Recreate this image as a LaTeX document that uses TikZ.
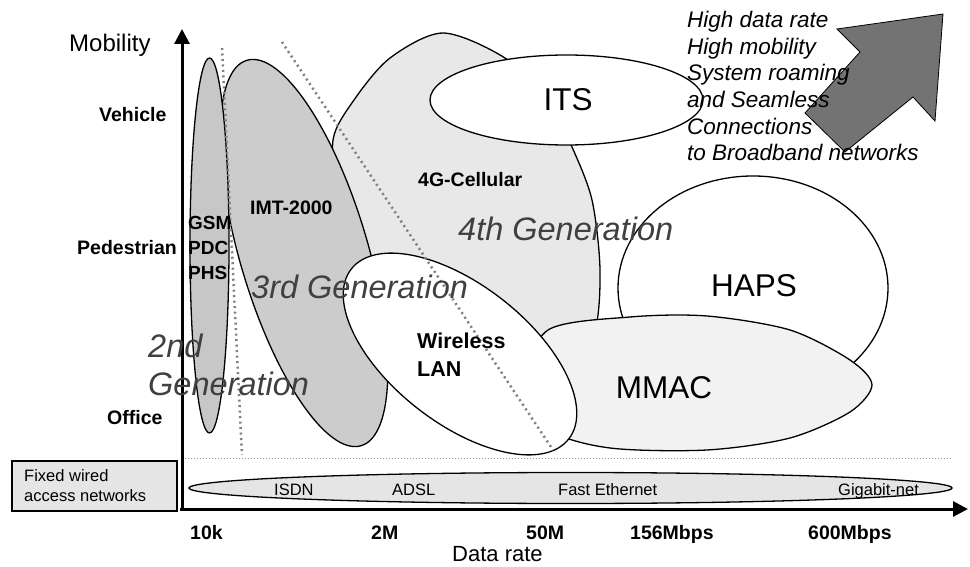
\documentclass[tikz,border=0pt]{standalone}
\usepackage{fontspec}
\setmainfont{Liberation Sans}
\usetikzlibrary{arrows.meta}
\begin{document}
\begin{tikzpicture}[x=1pt,y=1pt,
  outl/.style={draw=black,line width=1.3pt},
  axisline/.style={line width=3pt,-{Triangle[length=15pt,width=15pt]}},
  gendiv/.style={draw=black!50,line width=2.5pt,dash pattern=on 2pt off 3.5pt},
  blbl/.style={inner sep=0pt,anchor=base west,font=\fontsize{19.5}{22}\selectfont\bfseries},
  nlbl/.style={inner sep=0pt,anchor=base west,font=\fontsize{16.5}{19}\selectfont},
  biglbl/.style={inner sep=0pt,anchor=center,font=\fontsize{31.5}{34}\selectfont},
  genlbl/.style={inner sep=0pt,anchor=base west,text=black!75,font=\fontsize{32.5}{36}\selectfont\itshape},
  notelbl/.style={inner sep=0pt,anchor=base west,font=\fontsize{22.5}{26}\selectfont\itshape}]
\useasboundingbox (0,0) rectangle (970,566);

% fixed wired box and band
\draw[line width=1.5pt,fill=black!10] (12,55) rectangle (177,105);
\draw[black!40,line width=0.8pt,dash pattern=on 1pt off 2pt] (182,108) -- (952,108);
\draw[outl,fill=black!10] (570.5,78) ellipse [x radius=381.5,y radius=15.5];

% 4G cellular
\draw[outl,fill=black!9] plot[smooth cycle] coordinates {(333,426) (354,466) (390,508) (443,533) (505,508) (548,466) (572,419) (592,366) (600,296) (594,231) (560,166) (480,141) (410,186) (365,276) (340,366)};
% ITS
\draw[outl,fill=white] (566.5,466) ellipse [x radius=136.5,y radius=45];
% HAPS
\draw[outl,fill=white] (753,278) ellipse [x radius=135,y radius=112];
% MMAC
\draw[outl,fill=black!5] plot[smooth cycle] coordinates {(525,181) (548,236) (630,249) (707,250) (790,236) (850,206) (872,181) (850,154) (790,128) (707,116) (610,118) (550,136)};
% IMT-2000
\draw[outl,fill=black!20,rotate around={-73.5:(304,313)}] (304,313) ellipse [x radius=201,y radius=64];
% GSM
\draw[outl,fill=black!22] (209.5,320.5) ellipse [x radius=19.5,y radius=187.5];
% Wireless LAN
\draw[outl,fill=white,rotate around={-38:(460,212)}] (460,212) ellipse [x radius=138,y radius=69];

% generation dividers
\coordinate (d1a) at (222,518); \coordinate (d1b) at (242,111);
\coordinate (d2a) at (282,524); \coordinate (d2b) at (553,116);
\draw[gendiv] (d1a) -- (d1b);
\draw[gendiv] (d2a) -- (d2b);

% big arrow
\draw[line width=0.8pt,fill=black!55] (943,552) -- (837,537) -- (860,514) -- (805,453) -- (845,414) -- (913,469) -- (935,445) -- cycle;

% axes
\coordinate (O) at (182,57);
\coordinate (Ytip) at (182,537);
\coordinate (Xtip) at (968,57);
\draw[axisline] (O) -- (Ytip);
\draw[axisline] (180,57) -- (Xtip);

% texts
\node[inner sep=0pt,anchor=base west,font=\fontsize{24}{28}\selectfont] (mob) at (69,514) {Mobility};
\node[blbl] (veh) at (99,444) {Vehicle};
\node[blbl] (ped) at (77,311) {Pedestrian};
\node[blbl] (off) at (107,142) {Office};
\node[blbl,font=\fontsize{19}{22}\selectfont\bfseries] (gsm) at (188,336) {GSM};
\node[blbl,font=\fontsize{19}{22}\selectfont\bfseries] (pdc) at (188,311) {PDC};
\node[blbl,font=\fontsize{19}{22}\selectfont\bfseries] (phs) at (188,287) {PHS};
\node[blbl] (imt) at (250,351) {IMT-2000};
\node[blbl] (cell) at (418,379) {4G-Cellular};
\node[blbl,font=\fontsize{21.5}{24}\selectfont\bfseries] (wl) at (417,218) {Wireless};
\node[blbl,font=\fontsize{21.5}{24}\selectfont\bfseries] (lan) at (417,190) {LAN};
\node[biglbl] (its) at (568,466) {ITS};
\node[biglbl] (haps) at (754,280) {HAPS};
\node[biglbl] (mmac) at (664,178) {MMAC};

\node[genlbl] (g2a) at (148,209) {2nd};
\node[genlbl] (g2b) at (148,171) {Generation};
\node[genlbl] (g3) at (251,267) {3rd Generation};
\node[genlbl] (g4) at (458,325) {4th Generation};

\node[nlbl] (isdn) at (274,71) {ISDN};
\node[nlbl] (adsl) at (392,71) {ADSL};
\node[nlbl] (feth) at (558,71) {Fast Ethernet};
\node[nlbl] (gig) at (838,71) {Gigabit-net};
\node[nlbl] (fw1) at (24,85) {Fixed wired};
\node[nlbl] (fw2) at (24,65) {access networks};

\node[blbl] (x1) at (190,27) {10k};
\node[blbl] (x2) at (371,27) {2M};
\node[blbl] (x3) at (526,27) {50M};
\node[blbl] (x4) at (630,27) {156Mbps};
\node[blbl] (x5) at (808,27) {600Mbps};
\node[inner sep=0pt,anchor=base west,font=\fontsize{22}{26}\selectfont] (drate) at (452,4.5) {Data rate};

\node[notelbl] (n1) at (687,538) {High data rate};
\node[notelbl] (n2) at (687,511.5) {High mobility};
\node[notelbl] (n3) at (687,485) {System roaming};
\node[notelbl] (n4) at (687,458) {and Seamless};
\node[notelbl] (n5) at (687,431.5) {Connections};
\node[notelbl] (n6) at (687,405) {to Broadband networks};
\end{tikzpicture}
\end{document}
